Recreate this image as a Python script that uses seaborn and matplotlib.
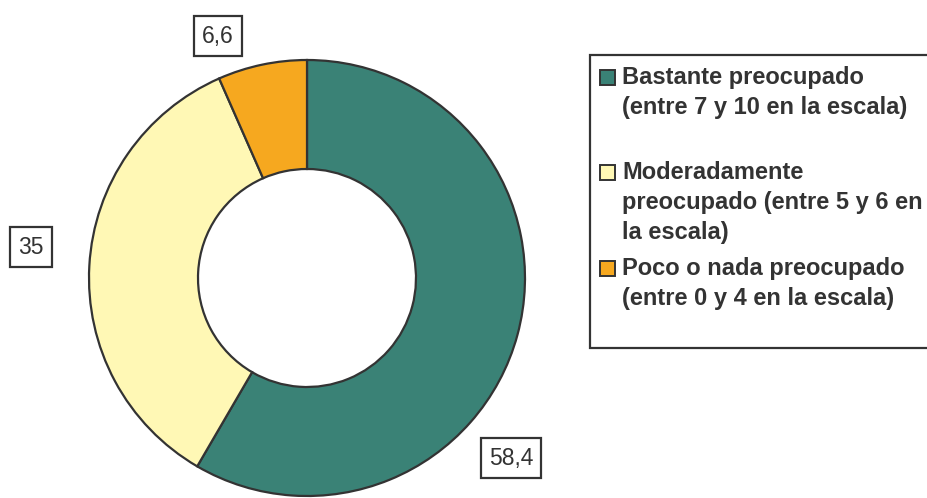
import matplotlib
matplotlib.use("Agg")
import matplotlib.pyplot as plt
import seaborn as sns
from matplotlib.patches import Rectangle

categorias = ["Bastante preocupado\n(entre 7 y 10 en la escala)",
              "Moderadamente\npreocupado (entre 5 y 6 en\nla escala)",
              "Poco o nada preocupado\n(entre 0 y 4 en la escala)"]
valores = [58.4, 35.0, 6.6]
etiquetas = ["58,4", "35", "6,6"]
colores = ["#3a8276", "#fff8b5", "#f6a81f"]

sns.set_theme(style="white")
plt.rcParams["font.family"] = ["Liberation Sans", "DejaVu Sans"]

W, H = 927, 498
def py(y):
    # pixel row -> data y (the axes span the whole figure, 1 unit = 1 px)
    return H - y

fig = plt.figure(figsize=(W / 100, H / 100), dpi=100)
ax = fig.add_axes([0, 0, 1, 1])

cx, cy, r = 307, 278, 218
ax.pie(valores, colors=colores, startangle=90, counterclock=False,
       center=(cx, py(cy)), radius=r,
       wedgeprops=dict(width=r * 0.5, edgecolor="#333333", linewidth=1.6))
ax.set_xlim(0, W)
ax.set_ylim(0, H)
ax.set_aspect("equal")
ax.axis("off")

# value labels in boxes (outside end)
pos_etiquetas = [(511, 458), (31, 247), (218, 36)]
for txt, (x, y) in zip(etiquetas, pos_etiquetas):
    ax.text(x, py(y), txt, ha="center", va="center", fontsize=16.5, color="#333333",
            bbox=dict(boxstyle="square,pad=0.35", fc="white", ec="#333333", lw=1.6))

# legend drawn by hand so the marker sits on the first line
ax.add_patch(Rectangle((590, py(348)), 360, 348 - 55, fc="white", ec="#333333", lw=1.6))
y_inicio = [77, 172, 268]
for cat, col, y0 in zip(categorias, colores, y_inicio):
    ax.add_patch(Rectangle((600, py(y0) - 7.5), 15, 15, fc=col, ec="#333333", lw=1.4))
    for k, linea in enumerate(cat.split("\n")):
        ax.text(622, py(y0 + k * 30), linea, ha="left", va="center", fontsize=17,
                fontweight="bold", color="#333333")

fig.savefig("out.png", dpi=100)
